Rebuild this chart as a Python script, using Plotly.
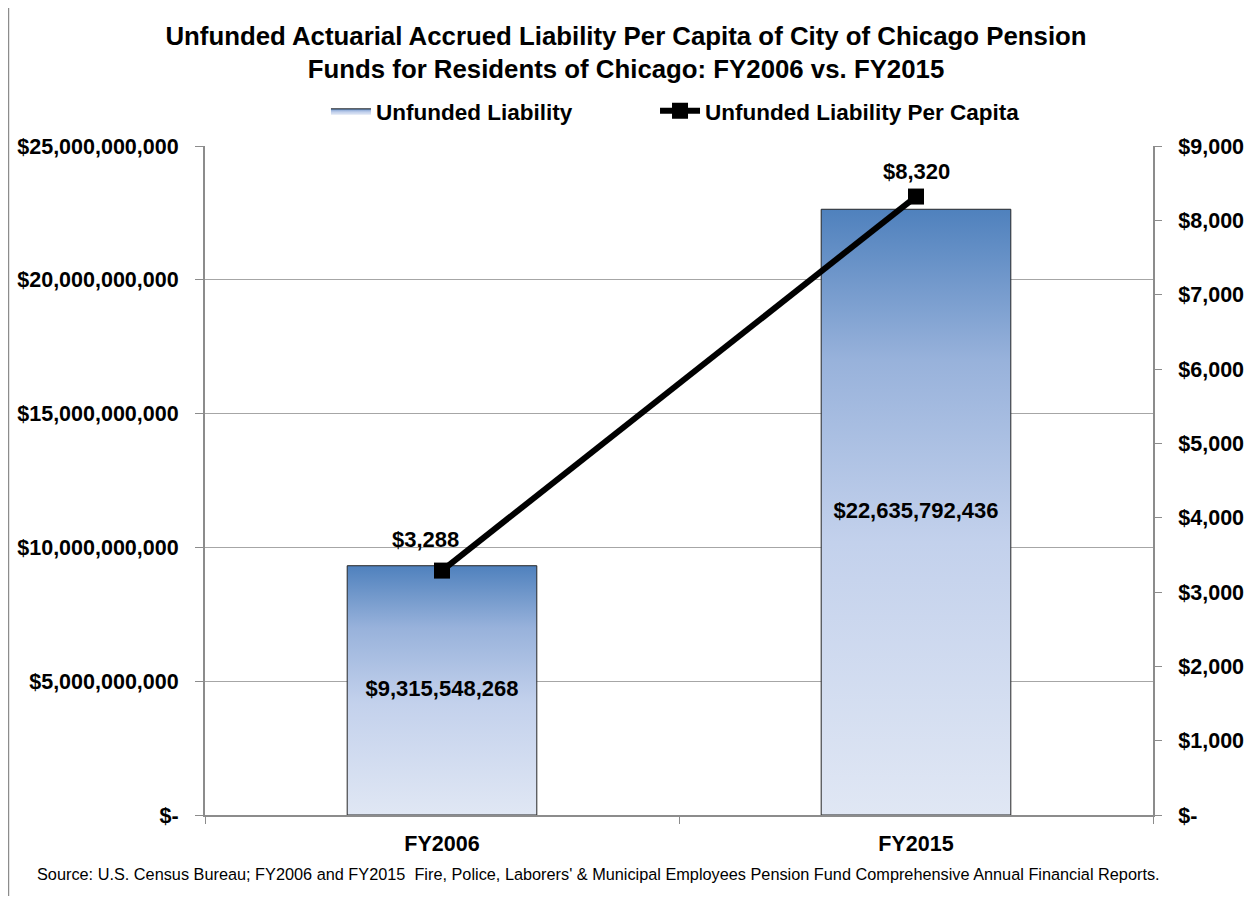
import plotly.graph_objects as go

# Chart data
years = ["FY2006", "FY2015"]
unfunded = [9315548268, 22635792436]
per_capita = [3288, 8320]

left_ticks = [0, 5000000000, 10000000000, 15000000000, 20000000000, 25000000000]
right_ticks = [0, 1000, 2000, 3000, 4000, 5000, 6000, 7000, 8000, 9000]

source_note = ("Source: U.S. Census Bureau; FY2006 and FY2015  Fire, Police, Laborers' & Municipal "
               "Employees Pension Fund Comprehensive Annual Financial Reports.")


def money(v):
    return "$-" if v == 0 else "${:,}".format(v)


FONT = "Liberation Sans"
SIZE = 21.5
BAR_W = 0.4
xpos = list(range(len(years)))
gradient = [[0, "#e0e7f4"], [0.45, "#c3d1ec"], [0.75, "#98b2db"], [1, "#4f81bd"]]

fig = go.Figure()

# gradient-filled bars (one polygon per bar so each gets its own gradient)
for i, (x, v) in enumerate(zip(xpos, unfunded)):
    fig.add_trace(go.Scatter(
        x=[x - BAR_W / 2, x + BAR_W / 2, x + BAR_W / 2, x - BAR_W / 2, x - BAR_W / 2],
        y=[0, 0, v, v, 0],
        mode="lines",
        fill="toself",
        fillgradient=dict(type="vertical", colorscale=gradient),
        line=dict(color="#262626", width=1),
        name="Unfunded Liability",
        legendgroup="bars",
        showlegend=(i == 0),
        hoverinfo="skip",
    ))

# value labels in the middle of each bar
fig.add_trace(go.Scatter(
    x=xpos,
    y=[v / 2 for v in unfunded],
    mode="text",
    text=[money(v) for v in unfunded],
    textposition="middle center",
    textfont=dict(family=FONT, size=22, color="black", weight="bold"),
    showlegend=False,
    hoverinfo="skip",
))

# per capita line on the secondary axis (own legend box so the gap matches)
fig.add_trace(go.Scatter(
    x=xpos,
    y=per_capita,
    yaxis="y2",
    mode="lines+markers",
    line=dict(color="black", width=6),
    marker=dict(symbol="square", size=16, color="black"),
    name="Unfunded Liability Per Capita",
    legend="legend2",
    cliponaxis=False,
))

# per capita labels above the markers
for x, v, dx, dy in zip(xpos, per_capita, [-17, 0], [31, 25]):
    fig.add_annotation(
        x=x, y=v, xref="x", yref="y2",
        text=money(v), showarrow=False,
        xshift=dx, yshift=dy,
        font=dict(family=FONT, size=22, color="black", weight="bold"),
    )

axis_font = dict(family=FONT, size=SIZE, weight="bold", color="black")
legend_font = dict(family=FONT, size=22.5, weight="bold", color="black")

fig.update_layout(
    width=1236,
    height=888,
    margin=dict(l=197, r=91, t=138, b=81, autoexpand=False),
    paper_bgcolor="white",
    plot_bgcolor="white",
    font=dict(family=FONT, color="black"),
    title=dict(
        text="Unfunded Actuarial Accrued Liability Per Capita of City of Chicago Pension<br>"
             "Funds for Residents of Chicago: FY2006 vs. FY2015",
        x=0.5, xref="container", xanchor="center",
        y=0.9584, yref="container", yanchor="middle",
        font=dict(family=FONT, size=25.8, weight="bold", color="black"),
    ),
    showlegend=True,
    legend=dict(
        orientation="h",
        x=0.1276, xanchor="left",
        y=1.052, yanchor="middle",
        font=legend_font,
        itemwidth=40,
        bgcolor="rgba(0,0,0,0)",
    ),
    legend2=dict(
        orientation="h",
        x=0.4747, xanchor="left",
        y=1.052, yanchor="middle",
        font=legend_font,
        itemwidth=40,
        bgcolor="rgba(0,0,0,0)",
    ),
    xaxis=dict(
        range=[-0.5, 1.5],
        tickvals=xpos,
        ticktext=years,
        ticks="",
        ticklabelstandoff=8,
        showgrid=False,
        zeroline=False,
        showline=True,
        linecolor="#8c8c8c",
        linewidth=2,
        tickfont=axis_font,
        automargin=False,
        minor=dict(tickvals=[-0.5, 0.5, 1.5], ticks="outside", ticklen=7,
                   tickcolor="#8c8c8c", tickwidth=1, showgrid=False),
    ),
    yaxis=dict(
        range=[0, 25000000000],
        tickvals=left_ticks,
        ticktext=[money(v) for v in left_ticks],
        ticks="outside",
        ticklen=8,
        tickcolor="#8c8c8c",
        ticklabelstandoff=12,
        showgrid=True,
        gridcolor="#a6a6a6",
        gridwidth=1,
        zeroline=False,
        showline=True,
        linecolor="#8c8c8c",
        linewidth=2,
        tickfont=axis_font,
        automargin=False,
    ),
    yaxis2=dict(
        range=[0, 9000],
        overlaying="y",
        side="right",
        tickvals=right_ticks,
        ticktext=[money(v) for v in right_ticks],
        ticks="outside",
        ticklen=7,
        tickcolor="#8c8c8c",
        ticklabelstandoff=12,
        showgrid=False,
        zeroline=False,
        showline=True,
        linecolor="#8c8c8c",
        linewidth=2,
        tickfont=axis_font,
        automargin=False,
    ),
)

# chart frame (top and left edges)
fig.add_shape(type="line", xref="paper", yref="paper",
              x0=-0.2073, x1=1.1023, y0=1.2128, y1=1.2128,
              line=dict(color="#8c8c8c", width=1.5), layer="below")
fig.add_shape(type="line", xref="paper", yref="paper",
              x0=-0.2073, x1=-0.2073, y0=-0.130, y1=1.2128,
              line=dict(color="#8c8c8c", width=1.5), layer="below")

fig.add_annotation(
    text=source_note,
    xref="paper", yref="paper",
    x=-0.1791, y=-0.088, xanchor="left", yanchor="middle",
    showarrow=False,
    font=dict(family=FONT, size=16.3, color="black"),
)

fig.write_html("out.html")
